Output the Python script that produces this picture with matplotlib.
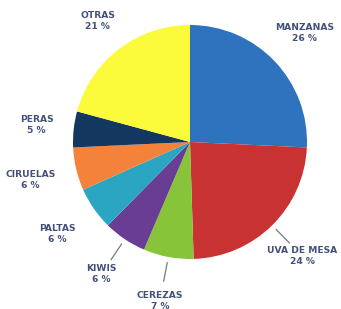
import matplotlib
matplotlib.use("Agg")
import matplotlib.pyplot as plt
import numpy as np

categories = ["MANZANAS", "UVA DE MESA", "CEREZAS", "KIWIS", "PALTAS", "CIRUELAS", "PERAS", "OTRAS"]
values = [26, 24, 7, 6, 6, 6, 5, 21]
colors = ["#2f72be", "#c93232", "#88c43a", "#6a3d94", "#2aa6c2", "#f5823a", "#13375e", "#fbfb3c"]
leader = [False, True, True, True, False, False, False, False]
label_dist = [1.35, 1.37, 1.38, 1.36, 1.38, 1.40, 1.32, 1.30]

W, H = 341, 309
fig = plt.figure(figsize=(W / 100, H / 100), dpi=100)
ax = fig.add_axes([0, 0, 1, 1])

cx, cy, R = 190, 167, 117
labels = [f"{c}\n{v} %" for c, v in zip(categories, values)]
wedges, texts = ax.pie(values, colors=colors, startangle=90, counterclock=False,
                       center=(cx, cy), radius=R, labels=labels, labeldistance=1.36,
                       wedgeprops=dict(linewidth=0), frame=True)
ax.set_xlim(0, W)
ax.set_ylim(0, H)
ax.set_aspect("equal")
ax.axis("off")
for w, t, d in zip(wedges, texts, label_dist):
    ang = np.deg2rad((w.theta1 + w.theta2) / 2)
    t.set_position((cx + d * R * np.cos(ang), cy + d * R * np.sin(ang)))
    t.set_ha("center")
    t.set_va("center")
    t.set_fontsize(6.6)
    t.set_fontweight("bold")
    t.set_color("#42507a")
    t.set_linespacing(1.25)

for w, has in zip(wedges, leader):
    if has:
        ang = np.deg2rad((w.theta1 + w.theta2) / 2)
        r0, r1 = 1.05 * R, 1.21 * R
        ax.plot([cx + r0 * np.cos(ang), cx + r1 * np.cos(ang)],
                [cy + r0 * np.sin(ang), cy + r1 * np.sin(ang)],
                color="#6d7b8a", lw=0.9)

fig.savefig("out.png", dpi=100)
